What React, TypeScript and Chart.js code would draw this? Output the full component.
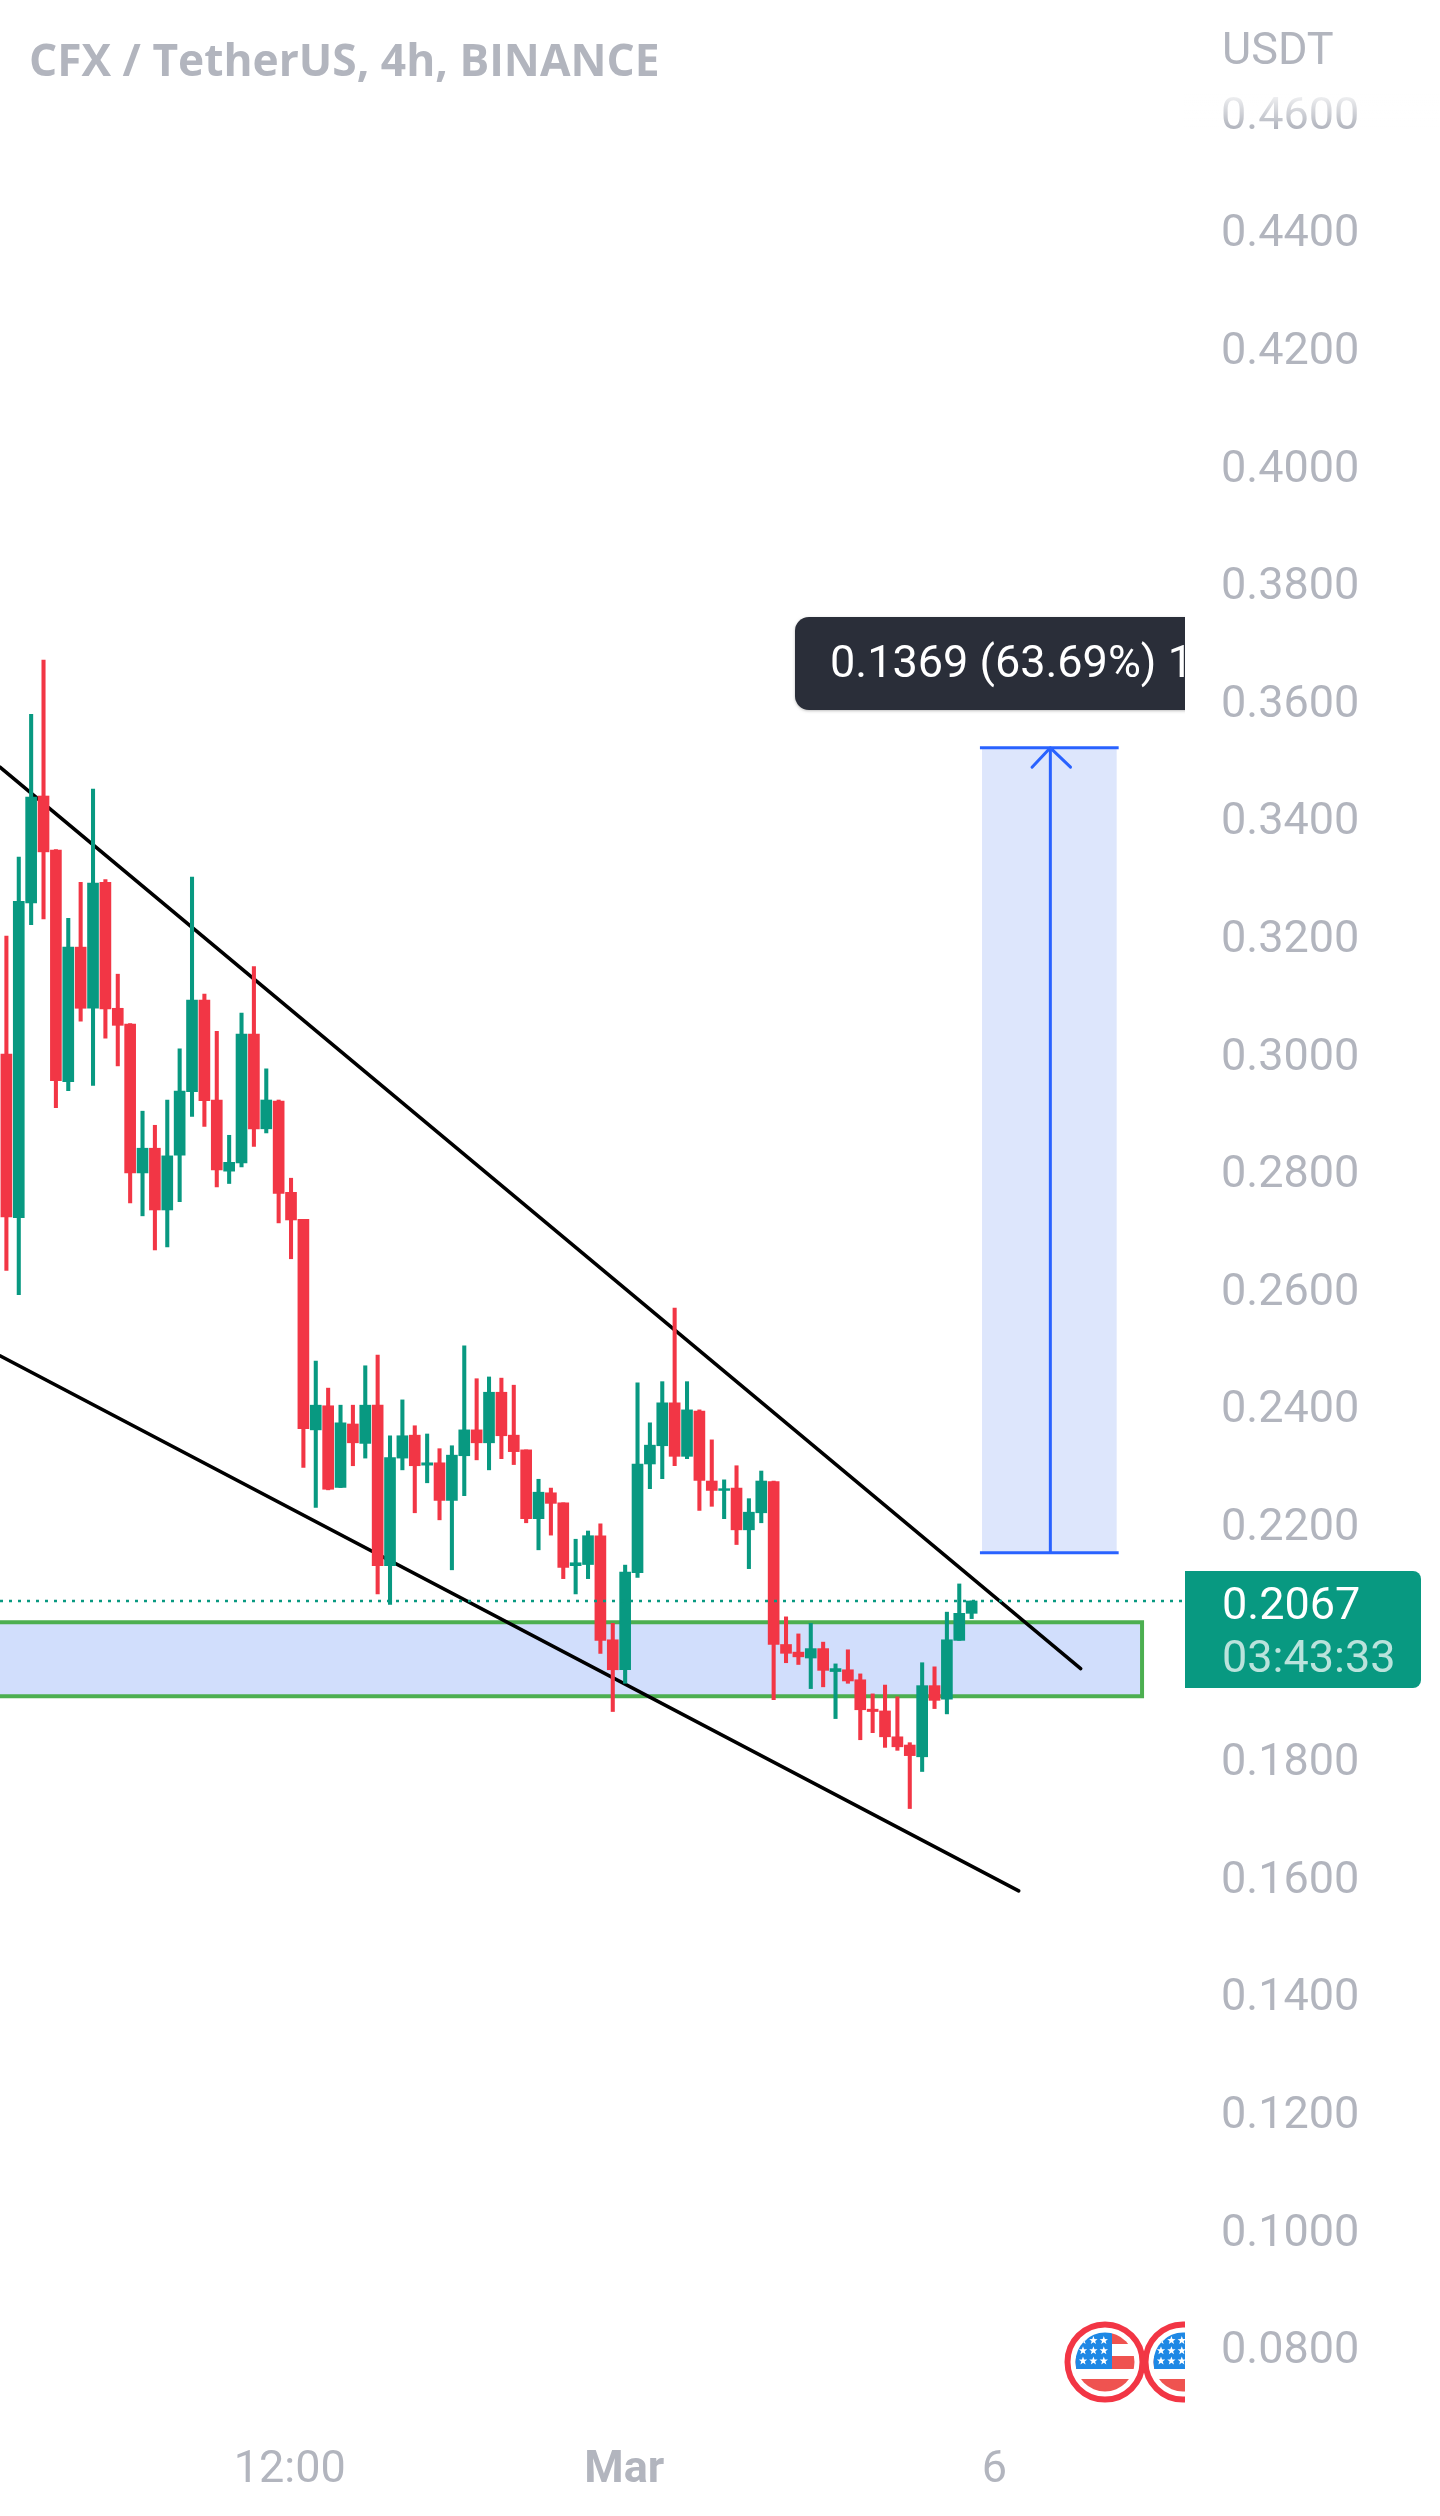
import React, { useEffect, useRef } from "react";
import { Chart, registerables } from "chart.js";

Chart.register(...registerables);

const opens = [
  0.2997, 0.2719, 0.3254, 0.3436, 0.3344, 0.295, 0.3179, 0.3075, 0.3289, 0.3075,
  0.3048, 0.2795, 0.2837, 0.2732, 0.2825, 0.2933, 0.3089, 0.2919, 0.2798, 0.2812,
  0.3031, 0.287, 0.2917, 0.2762, 0.2716, 0.2358, 0.2399, 0.226, 0.2368, 0.2335,
  0.24, 0.2127, 0.231, 0.2349, 0.2298, 0.2302, 0.2238, 0.2314, 0.2358, 0.2336,
  0.2422, 0.2349, 0.2324, 0.2207, 0.2251, 0.2234, 0.2127, 0.2129, 0.2178, 0.2001,
  0.195, 0.2115, 0.23, 0.2331, 0.2404, 0.2313, 0.239, 0.2271, 0.2255, 0.2259,
  0.2188, 0.2217, 0.227, 0.1993, 0.198, 0.197, 0.1986, 0.1947, 0.195, 0.1933,
  0.1883, 0.188, 0.1836, 0.1822, 0.1802, 0.1923, 0.19, 0.2, 0.2046,
];
const closes = [
  0.272, 0.3257, 0.3434, 0.3341, 0.2952, 0.3179, 0.3075, 0.3288, 0.3074, 0.3046,
  0.2795, 0.2837, 0.2732, 0.2824, 0.2934, 0.3089, 0.2918, 0.28, 0.2813, 0.3031,
  0.287, 0.2919, 0.276, 0.2715, 0.236, 0.24, 0.2257, 0.237, 0.2336, 0.24,
  0.2127, 0.2311, 0.2348, 0.2297, 0.2302, 0.2238, 0.2315, 0.2358, 0.2336, 0.2422,
  0.2348, 0.2321, 0.2207, 0.2252, 0.2233, 0.2124, 0.2132, 0.2178, 0.2, 0.195,
  0.2116, 0.23, 0.2332, 0.2404, 0.2313, 0.2392, 0.2272, 0.2255, 0.2258, 0.2188,
  0.2218, 0.2271, 0.1993, 0.1978, 0.1972, 0.1986, 0.1949, 0.1952, 0.1931, 0.1882,
  0.1879, 0.1836, 0.1819, 0.1804, 0.1923, 0.1898, 0.2001, 0.2046, 0.2067,
];
const highs = [
  0.3198, 0.3332, 0.3575, 0.3667, 0.3345, 0.3228, 0.3289, 0.3448, 0.3294, 0.3133,
  0.3049, 0.29, 0.2876, 0.2919, 0.3006, 0.3298, 0.3099, 0.3036, 0.2859, 0.3067,
  0.3146, 0.2972, 0.2919, 0.2786, 0.2716, 0.2475, 0.2429, 0.24, 0.24, 0.2467,
  0.2485, 0.2348, 0.2409, 0.2365, 0.2351, 0.2326, 0.2331, 0.2501, 0.2445, 0.2448,
  0.2446, 0.2434, 0.2324, 0.2274, 0.2259, 0.2234, 0.2172, 0.2186, 0.2198, 0.2029,
  0.2128, 0.2438, 0.237, 0.244, 0.2565, 0.244, 0.2392, 0.2341, 0.2273, 0.2297,
  0.2241, 0.2288, 0.2271, 0.204, 0.2011, 0.2029, 0.1997, 0.196, 0.1984, 0.1943,
  0.1909, 0.1924, 0.1904, 0.1826, 0.1962, 0.1955, 0.2048, 0.2096, 0.2067,
];
const lows = [
  0.2629, 0.2588, 0.3217, 0.3227, 0.2906, 0.2935, 0.3053, 0.2944, 0.3024, 0.2977,
  0.2744, 0.2722, 0.2664, 0.2669, 0.2746, 0.2891, 0.2874, 0.2771, 0.2777, 0.2805,
  0.284, 0.2863, 0.271, 0.2649, 0.2294, 0.2226, 0.2256, 0.226, 0.2297, 0.231,
  0.2079, 0.2061, 0.229, 0.2217, 0.2268, 0.2205, 0.212, 0.2246, 0.2307, 0.229,
  0.2309, 0.2299, 0.22, 0.2154, 0.2179, 0.2105, 0.2079, 0.2105, 0.1978, 0.1879,
  0.1927, 0.2107, 0.2258, 0.2275, 0.2297, 0.2309, 0.2221, 0.2228, 0.2207, 0.2163,
  0.2122, 0.22, 0.1899, 0.1962, 0.1959, 0.1918, 0.1921, 0.1867, 0.1927, 0.1831,
  0.1843, 0.1818, 0.1813, 0.1714, 0.1777, 0.1884, 0.1875, 0.2, 0.2037,
];

const xTickValues = [22.9, 49.93, 79.83];
const xTickLabels = ["12:00", "Mar", "6"];

const xRange = [-0.517, 95.16];
const yRange = [0.06741, 0.46197];
// The price labels sit a little below their true level in the reference.
const yLabelRange = [0.06843, 0.46299];
const lastPrice = 0.2067;

const upperTrend = [
  { x: -0.517, y: 0.3485 },
  { x: 86.81, y: 0.1952 },
];
const lowerTrend = [
  { x: -0.517, y: 0.2484 },
  { x: 81.8, y: 0.1574 },
];
const zoneX = [-3, 91.77];
const zoneY = [0.2031, 0.1905];
const targetX = [78.84, 89.72];
const targetLineX = [78.67, 89.88];
const targetY = [0.3518, 0.2149];
const arrowX = [82.88, 84.36, 85.99];
const arrowHeadY = 0.3485;

const UP = "#089981";
const DOWN = "#f23645";
const AXIS = "#b2b5be";
const BLUE = "#2962ff";
const LABEL_FONT = "45px Roboto";

const overlayText = {
  title: "CFX / TetherUS, 4h, BINANCE",
  unit: "USDT",
  price: "0.2067",
  countdown: "03:43:33",
  measure: "0.1369 (63.69%) 1369",
};

function drawStar(ctx: CanvasRenderingContext2D, cx: number, cy: number, r: number) {
  ctx.beginPath();
  for (let i = 0; i < 10; i++) {
    const a = -Math.PI / 2 + (i * Math.PI) / 5;
    const rr = i % 2 ? r * 0.42 : r;
    ctx.lineTo(cx + Math.cos(a) * rr, cy + Math.sin(a) * rr);
  }
  ctx.closePath();
  ctx.fill();
}

function drawFlag(ctx: CanvasRenderingContext2D, cx: number, cy: number) {
  ctx.save();
  ctx.beginPath();
  ctx.arc(cx, cy, 29.5, 0, Math.PI * 2);
  ctx.clip();
  ctx.fillStyle = "#ffffff";
  ctx.fillRect(cx - 40, cy - 40, 80, 80);
  ctx.fillStyle = "#ef5350";
  ctx.fillRect(cx + 7, cy - 30, 30, 12);
  ctx.fillRect(cx - 30, cy - 6, 60, 13);
  ctx.fillRect(cx - 30, cy + 17, 60, 14);
  ctx.fillStyle = "#1e88e5";
  ctx.fillRect(cx - 30, cy - 30, 37, 37);
  ctx.fillStyle = "#ffffff";
  for (let row = 0; row < 3; row++) {
    for (let col = 0; col < 3; col++) {
      drawStar(ctx, cx - 22 + col * 10.4, cy - 21.5 + row * 10.2, 4.4);
    }
  }
  ctx.restore();
  ctx.beginPath();
  ctx.arc(cx, cy, 37.5, 0, Math.PI * 2);
  ctx.lineWidth = 6;
  ctx.strokeStyle = DOWN;
  ctx.stroke();
}

const overlayPlugin = {
  id: "overlay",
  afterDraw(chart: any) {
    const ctx: CanvasRenderingContext2D = chart.ctx;
    const { chartArea } = chart;
    ctx.save();
    ctx.textBaseline = "middle";
    ctx.textAlign = "left";

    // Fade at the top of the price axis
    const fade = ctx.createLinearGradient(0, 94, 0, 128);
    fade.addColorStop(0, "rgba(255,255,255,0.85)");
    fade.addColorStop(1, "rgba(255,255,255,0)");
    ctx.fillStyle = fade;
    ctx.fillRect(chartArea.right, 94, 256, 34);

    // Title and currency
    ctx.fillStyle = AXIS;
    ctx.font = 'bold 44.3px "Open Sans"';
    ctx.fillText(overlayText.title, 29, 63);
    ctx.font = LABEL_FONT;
    ctx.fillText(overlayText.unit, 1222, 53);

    // Measurement tooltip, clipped by the pane
    ctx.save();
    ctx.beginPath();
    ctx.rect(0, 0, 1185, 2516);
    ctx.clip();
    ctx.beginPath();
    ctx.roundRect(795, 617, 440, 93, 14);
    ctx.fillStyle = "#2a2e39";
    ctx.shadowColor = "rgba(0,0,0,0.25)";
    ctx.shadowBlur = 3;
    ctx.shadowOffsetY = 1;
    ctx.fill();
    ctx.shadowColor = "transparent";
    ctx.fillStyle = "#ffffff";
    ctx.font = LABEL_FONT;
    ctx.fillText(overlayText.measure, 830, 666);
    ctx.restore();

    // Last price tag
    ctx.beginPath();
    ctx.roundRect(1185, 1571, 236, 117, [0, 8, 8, 0]);
    ctx.fillStyle = UP;
    ctx.fill();
    ctx.fillStyle = "#ffffff";
    ctx.font = LABEL_FONT;
    ctx.fillText(overlayText.price, 1222, 1608);
    ctx.fillStyle = "rgba(255,255,255,0.72)";
    ctx.fillText(overlayText.countdown, 1222, 1661);

    // Flag badges, clipped by the pane
    ctx.save();
    ctx.beginPath();
    ctx.rect(0, 0, 1185, 2516);
    ctx.clip();
    drawFlag(ctx, 1183, 2362);
    drawFlag(ctx, 1105, 2362);
    ctx.restore();
    ctx.restore();
  },
};

const lineBase = { type: "line", pointRadius: 0, pointHoverRadius: 0, tension: 0, fill: false };

export default function App() {
  const ref = useRef<HTMLCanvasElement>(null);
  useEffect(() => {
    document.body.style.margin = "0";
    const indices = opens.map((_, i) => i);
    const colors = indices.map((i) => (closes[i] >= opens[i] ? UP : DOWN));
    const chart = new Chart(ref.current as HTMLCanvasElement, {
      type: "bar",
      data: {
        datasets: [
          {
            ...lineBase,
            order: 20,
            clip: 0,
            data: [
              { x: zoneX[0], y: zoneY[0] },
              { x: zoneX[1], y: zoneY[0] },
              { x: zoneX[1], y: zoneY[1] },
              { x: zoneX[0], y: zoneY[1] },
              { x: zoneX[0], y: zoneY[0] },
            ],
            fill: "shape",
            backgroundColor: "#d1defc",
            borderColor: "#4caf50",
            borderWidth: 4,
            borderCapStyle: "square",
          },
          {
            ...lineBase,
            order: 19,
            data: [
              { x: targetX[0], y: targetY[0] },
              { x: targetX[1], y: targetY[0] },
              { x: targetX[1], y: targetY[1] },
              { x: targetX[0], y: targetY[1] },
              { x: targetX[0], y: targetY[0] },
            ],
            fill: "shape",
            backgroundColor: "#dde6fc",
            borderColor: "rgba(0,0,0,0)",
            borderWidth: 0,
          },
          {
            ...lineBase,
            order: 18,
            data: [
              { x: targetLineX[0], y: targetY[0] },
              { x: targetLineX[1], y: targetY[0] },
            ],
            borderColor: BLUE,
            borderWidth: 3,
          },
          {
            ...lineBase,
            order: 18,
            data: [
              { x: targetLineX[0], y: targetY[1] },
              { x: targetLineX[1], y: targetY[1] },
            ],
            borderColor: BLUE,
            borderWidth: 3,
          },
          {
            ...lineBase,
            order: 18,
            data: [
              { x: arrowX[1], y: targetY[1] },
              { x: arrowX[1], y: targetY[0] },
            ],
            borderColor: BLUE,
            borderWidth: 3,
          },
          {
            ...lineBase,
            order: 18,
            data: [
              { x: arrowX[0], y: arrowHeadY },
              { x: arrowX[1], y: targetY[0] },
              { x: arrowX[2], y: arrowHeadY },
            ],
            borderColor: BLUE,
            borderWidth: 3,
            borderCapStyle: "round",
            borderJoinStyle: "round",
          },
          { ...lineBase, order: 10, data: upperTrend, borderColor: "#000000", borderWidth: 3.5, borderCapStyle: "round" },
          { ...lineBase, order: 10, data: lowerTrend, borderColor: "#000000", borderWidth: 3.5, borderCapStyle: "round" },
          {
            type: "bar",
            order: 5,
            grouped: false,
            barThickness: 3.4,
            data: indices.map((i) => ({ x: i, y: [lows[i], highs[i]] })),
            backgroundColor: colors,
            borderWidth: 0,
          },
          {
            type: "bar",
            order: 4,
            grouped: false,
            barThickness: 11,
            data: indices.map((i) => ({ x: i, y: [opens[i], closes[i]] })),
            backgroundColor: colors,
            borderWidth: 0,
          },
          {
            ...lineBase,
            order: 1,
            data: [
              { x: xRange[0], y: lastPrice },
              { x: xRange[1], y: lastPrice },
            ],
            borderColor: UP,
            borderWidth: 2.6,
            borderDash: [3, 6],
          },
        ],
      } as any,
      options: {
        responsive: false,
        animation: false,
        devicePixelRatio: 1,
        layout: { padding: { top: 100, left: 0, right: 0, bottom: 0 } },
        plugins: { legend: { display: false }, tooltip: { enabled: false }, title: { display: false } },
        events: [],
        scales: {
          x: {
            type: "linear",
            min: xRange[0],
            max: xRange[1],
            offset: false,
            grid: { display: false, drawTicks: false },
            border: { display: false },
            afterBuildTicks: (scale: any) => {
              scale.ticks = xTickValues.map((value) => ({ value }));
            },
            afterFit: (scale: any) => {
              scale.height = 96;
            },
            ticks: {
              autoSkip: false,
              maxRotation: 0,
              padding: 24,
              color: AXIS,
              font: (ctx: any) => ({
                family: "Roboto",
                size: 45,
                weight: ctx.index === 1 ? "bold" : "normal",
              }),
              callback: (value: any) => xTickLabels[xTickValues.indexOf(value)],
            },
          },
          y: {
            type: "linear",
            position: "right",
            display: false,
            min: yRange[0],
            max: yRange[1],
          },
          priceLabels: {
            type: "linear",
            axis: "y",
            position: "right",
            min: yLabelRange[0],
            max: yLabelRange[1],
            grid: { display: false, drawTicks: false },
            border: { display: false },
            afterFit: (scale: any) => {
              scale.width = 256;
            },
            ticks: {
              stepSize: 0.02,
              includeBounds: false,
              padding: 37,
              color: AXIS,
              font: { family: "Roboto", size: 45 },
              callback: (value: any) => Number(value).toFixed(4),
            },
          },
        },
      } as any,
      plugins: [overlayPlugin],
    } as any);
    return () => chart.destroy();
  }, []);
  return (
    <div style={{ position: "absolute", left: 0, top: 0, width: 1440, height: 2516, background: "#ffffff" }}>
      <canvas ref={ref} width={1440} height={2516} style={{ display: "block", width: 1440, height: 2516 }} />
    </div>
  );
}
